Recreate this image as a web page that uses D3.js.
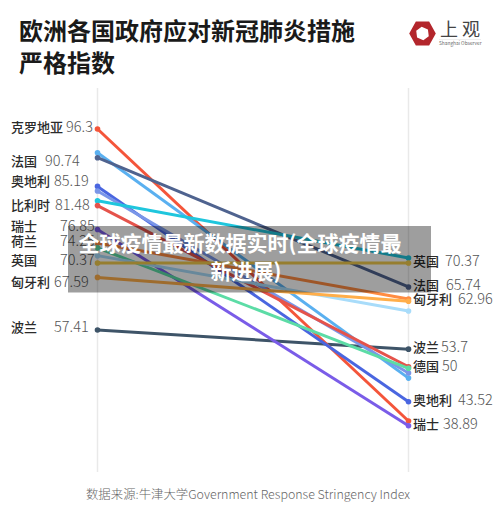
<!DOCTYPE html>
<html><head><meta charset="utf-8">
<script src="https://cdn.jsdelivr.net/npm/d3@7/dist/d3.min.js"></script>
<style>html,body{margin:0;padding:0;background:#fff}svg{display:block}text{font-family:"Noto Sans CJK SC","Noto Sans",sans-serif}</style>
</head><body><svg id="c" width="500" height="519"></svg>
<script>
const seriesNames = ["波兰线","克罗地亚","浅蓝","法国","奥地利","淡紫","青色","比利时","瑞士","荷兰","德国","天蓝","英国","匈牙利"];
const startValues = [57.41,96.3,91.7,90.74,85.19,84.3,82.4,81.48,76.85,74.25,73.3,71.8,70.37,67.59];
const endValues   = [53.7,39.8,48.1,65.74,43.52,49.1,71.35,50.3,38.89,63.4,50,61.1,70.37,62.96];
const colors = ["#3e5468","#f4553a","#5ab0f0","#4f638f","#4a66e0","#7a96e8","#1fc6dd","#e5534b","#7a5ce8","#ff8c42","#5cdca6","#a8dcfa","#f2cb4c","#ffae4a"];
const leftLabels = [["克罗地亚","96.3"],["法国","90.74"],["奥地利","85.19"],["比利时","81.48"],["瑞士","76.85"],["荷兰","74.25"],["英国","70.37"],["匈牙利","67.59"],["波兰","57.41"]];
const rightLabels = [["英国","70.37"],["法国","65.74"],["匈牙利","62.96"],["波兰","53.7"],["德国","50"],["奥地利","43.52"],["瑞士","38.89"]];
const titleLines = ["欧洲各国政府应对新冠肺炎措施","严格指数"];
const overlayLines = ["全球疫情最新数据实时(全球疫情最","新进展)"];
const sourceText = "数据来源:牛津大学Government Response Stringency Index";

const svg = d3.select("#c");
const x = d3.scalePoint().domain(["start","end"]).range([97.5,408.5]);
const y = d3.scaleLinear().domain([57.41,96.3]).range([330,129]);

// layout of the hand-placed labels
const leftLayout = [[127,66],[161,45],[181,54],[205,55],[226,60],[241,60],[260,60],[282,54],[327,54]];
const rightLayout = [[261,445],[285,446],[299,458],[347,441],[366,442],[400,458],[424,443]];
const overlayCentres = [240,246];

svg.selectAll("text.title").data(titleLines).join("text").attr("class","title")
  .attr("x",19).attr("y",(d,i)=>40+i*32).attr("font-size",24).attr("font-weight",700).attr("fill","#1a1a1a").text(d=>d);

// logo
const logo = svg.append("g");
logo.append("path").attr("fill-rule","evenodd").attr("fill","#b3262c")
  .attr("d",d3.line()(d3.range(6).map(i=>[422.5+13.3*Math.cos(i*Math.PI/3),33.5+13.8*Math.sin(i*Math.PI/3)]))+"Z"+
            d3.line()(d3.range(6).map(i=>[422.5+6.8*Math.cos(i*Math.PI/3+0.4),33.5+6.8*Math.sin(i*Math.PI/3+0.4)]))+"Z");
logo.append("text").attr("x",440).attr("y",36).attr("font-size",18).attr("font-weight",400).attr("letter-spacing",4).attr("fill","#444").text("上观");
logo.append("line").attr("x1",439).attr("x2",481).attr("y1",39.5).attr("y2",39.5).attr("stroke","#ddd").attr("stroke-width",.5);
logo.append("text").attr("x",439).attr("y",45).attr("font-size",4.8).attr("fill","#666").text("Shanghai Observer");

svg.selectAll("line.axis").data(x.domain()).join("line").attr("class","axis")
  .attr("x1",d=>x(d)).attr("x2",d=>x(d)).attr("y1",88).attr("y2",472)
  .attr("stroke","#e9e9e9").attr("stroke-width",1.5);

const line = d3.line().x(d=>x(d[0])).y(d=>y(d[1]));
const g = svg.selectAll("g.s").data(seriesNames).join("g").attr("class","s");
g.append("path").attr("fill","none").attr("stroke",(d,i)=>colors[i]).attr("stroke-width",3)
  .attr("d",(d,i)=>line([["start",startValues[i]],["end",endValues[i]]]));
g.selectAll("circle").data((d,i)=>[["start",startValues[i],colors[i]],["end",endValues[i],colors[i]]]).join("circle")
  .attr("cx",d=>x(d[0])).attr("cy",d=>y(d[1])).attr("r",2.8).attr("fill",d=>d[2]);

function labels(data,layout,nameX){
  data.forEach((d,i)=>{
    svg.append("text").attr("x",nameX).attr("y",layout[i][0]+4.5).attr("font-size",13).attr("font-weight",500).attr("fill","#2b2b2b").text(d[0]);
    svg.append("text").attr("x",layout[i][1]).attr("y",layout[i][0]+5).attr("font-size",14.5).attr("font-weight",300).attr("fill","#555").text(d[1]);
  });
}
labels(leftLabels,leftLayout,11);
labels(rightLabels,rightLayout,413);

svg.append("text").attr("x",248).attr("y",499).attr("text-anchor","middle").attr("font-size",12.4).attr("font-weight",300).attr("fill","#666").text(sourceText);

svg.append("rect").attr("x",68).attr("y",226).attr("width",363).attr("height",66.5).attr("fill","#000").attr("fill-opacity",.38);
svg.selectAll("text.ov").data(overlayLines).join("text").attr("class","ov")
  .attr("x",(d,i)=>overlayCentres[i]).attr("y",(d,i)=>251+i*28).attr("text-anchor","middle").attr("font-size",21).attr("font-weight",700).attr("fill","#fff").text(d=>d);
</script></body></html>
